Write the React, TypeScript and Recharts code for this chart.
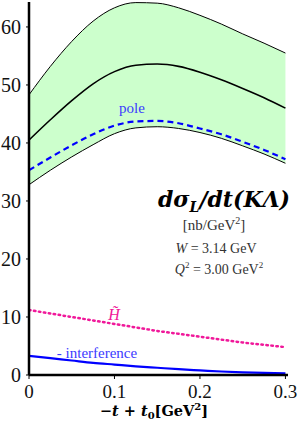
import React from "react";
import {
  ComposedChart,
  Area,
  Line,
  XAxis,
  YAxis,
} from "recharts";

// -t + t0 [GeV^2]
const tValues = [0, 0.025, 0.05, 0.075, 0.1, 0.125, 0.15, 0.175, 0.2, 0.225, 0.25, 0.275, 0.3];
// error band and central curve [nb/GeV^2]
const bandUpper = [48.3, 53.2, 57.5, 61.0, 63.3, 64.2, 64.1, 63.3, 62.0, 60.5, 58.8, 57.2, 55.5];
const central = [40.5, 44.0, 47.3, 50.2, 52.3, 53.4, 53.6, 53.2, 52.2, 50.9, 49.4, 47.8, 46.0];
const bandLower = [32.8, 35.3, 37.6, 39.7, 41.6, 42.6, 42.8, 42.5, 41.8, 40.8, 39.5, 38.1, 36.5];
// contributions
const pole = [35.3, 37.5, 39.6, 41.5, 43.0, 43.7, 43.8, 43.4, 42.5, 41.5, 40.2, 38.8, 37.2];
const hTilde = [11.2, 10.6, 10.0, 9.4, 8.8, 8.2, 7.6, 7.1, 6.6, 6.1, 5.6, 5.2, 4.8];
const interference = [3.3, 2.9, 2.5, 2.1, 1.8, 1.5, 1.25, 1.0, 0.8, 0.6, 0.45, 0.35, 0.3];

const xTicks = [0, 0.1, 0.2, 0.3];
const yTicks = [0, 10, 20, 30, 40, 50, 60];

const data = tValues.map((t, i) => ({
  t,
  band: [bandLower[i], bandUpper[i]],
  upper: bandUpper[i],
  lower: bandLower[i],
  central: central[i],
  pole: pole[i],
  hTilde: hTilde[i],
  interference: interference[i],
}));

const FONT = "Liberation Serif";
const WIDE = "DejaVu Serif";

const XTick = ({ x, y, payload }: any) => (
  <text x={x} y={Number(y) + 19} textAnchor="middle" fontFamily={FONT} fontSize={19} fill="#111">
    {String(payload.value)}
  </text>
);

const YTick = ({ x, y, payload }: any) => (
  <text x={Number(x) - 5} y={Number(y) + 7} textAnchor="end" fontFamily={FONT} fontSize={20} fill="#111">
    {String(payload.value)}
  </text>
);

export default function App() {
  return (
    <div style={{ position: "fixed", left: 0, top: 0, width: 299, height: 421, background: "#fff" }}>
      <ComposedChart
        width={299}
        height={421}
        data={data}
        margin={{ top: 2, right: 11, bottom: 0, left: 0 }}
      >
        <XAxis
          xAxisId="bottom"
          dataKey="t"
          type="number"
          domain={[0, 0.303]}
          ticks={xTicks}
          axisLine={{ stroke: "#000", strokeWidth: 2.5 }}
          tickLine={{ stroke: "#000" }}
          tickSize={4}
          tickMargin={0}
          tick={<XTick />}
          height={46}
          allowDataOverflow
        />
        <XAxis
          xAxisId="top"
          orientation="top"
          dataKey="t"
          type="number"
          domain={[0, 0.303]}
          ticks={xTicks}
          mirror
          tick={false}
          tickSize={5}
          axisLine={{ stroke: "#000", strokeWidth: 1.5 }}
          tickLine={{ stroke: "#000" }}
          height={0}
        />
        <YAxis
          yAxisId="left"
          type="number"
          domain={[0, 64.3]}
          ticks={yTicks}
          axisLine={{ stroke: "#000", strokeWidth: 2.5 }}
          tickLine={{ stroke: "#000" }}
          tickSize={3}
          tickMargin={0}
          tick={<YTick />}
          width={29}
          allowDataOverflow
        />
        <YAxis
          yAxisId="right"
          orientation="right"
          type="number"
          domain={[0, 64.3]}
          ticks={yTicks}
          mirror
          tick={false}
          tickSize={5}
          axisLine={{ stroke: "#000", strokeWidth: 1.5 }}
          tickLine={{ stroke: "#000" }}
          width={0}
        />
        <Area
          xAxisId="bottom"
          yAxisId="left"
          type="monotone"
          dataKey="band"
          fill="#ccffcc"
          fillOpacity={1}
          stroke="none"
          isAnimationActive={false}
        />
        <Line xAxisId="bottom" yAxisId="left" type="monotone" dataKey="upper" stroke="#000" strokeWidth={1} dot={false} isAnimationActive={false} />
        <Line xAxisId="bottom" yAxisId="left" type="monotone" dataKey="lower" stroke="#000" strokeWidth={1} dot={false} isAnimationActive={false} />
        <Line xAxisId="bottom" yAxisId="left" type="monotone" dataKey="central" stroke="#000" strokeWidth={1.6} dot={false} isAnimationActive={false} />
        <Line xAxisId="bottom" yAxisId="left" type="monotone" dataKey="pole" stroke="#0000ff" strokeWidth={2.2} strokeDasharray="6 4" dot={false} isAnimationActive={false} />
        <Line xAxisId="bottom" yAxisId="left" type="monotone" dataKey="hTilde" stroke="#f0189a" strokeWidth={2.5} strokeDasharray="1.5 3.5" strokeLinecap="round" dot={false} isAnimationActive={false} />
        <Line xAxisId="bottom" yAxisId="left" type="monotone" dataKey="interference" stroke="#0000ff" strokeWidth={2.2} dot={false} isAnimationActive={false} />
      </ComposedChart>
      <svg
        width={299}
        height={421}
        style={{ position: "absolute", left: 0, top: 0, pointerEvents: "none" }}
        fontFamily={FONT}
      >
        <text x={132} y={113} fill="#3b3bff" fontSize={15} textAnchor="middle">pole</text>
        <text x={114} y={320} fill="#f0189a" fontSize={16} fontStyle="italic" textAnchor="middle">H̃</text>
        <text x={97} y={358} fill="#3b3bff" fontSize={15} textAnchor="middle">- interference</text>
        <text x={290} y={207} fill="#000" fontFamily={WIDE} fontSize={22} fontWeight="bold" fontStyle="italic" textAnchor="end">
          dσ<tspan fontSize={14} dy={5}>L</tspan><tspan dy={-5}>/dt(KΛ)</tspan>
        </text>
        <text x={214} y={230} fill="#333" fontSize={15} textAnchor="middle">
          [nb/GeV<tspan fontSize={10} dy={-6}>2</tspan><tspan dy={6}>]</tspan>
        </text>
        <text x={216} y={253} fill="#333" fontSize={14} textAnchor="middle">
          <tspan fontStyle="italic">W</tspan> = 3.14 GeV
        </text>
        <text x={219} y={274} fill="#333" fontSize={14} textAnchor="middle">
          <tspan fontStyle="italic">Q</tspan><tspan fontSize={9} dy={-6}>2</tspan><tspan dy={6}> = 3.00 GeV</tspan><tspan fontSize={9} dy={-6}>2</tspan>
        </text>
        <text x={154} y={416} fill="#000" fontFamily={WIDE} fontSize={14.5} fontWeight="bold" textAnchor="middle">
          −<tspan fontStyle="italic">t</tspan> + <tspan fontStyle="italic">t</tspan><tspan fontSize={10} dy={3}>0</tspan><tspan dy={-3}>[GeV</tspan><tspan fontSize={10} dy={-6}>2</tspan><tspan dy={6}>]</tspan>
        </text>
      </svg>
    </div>
  );
}
